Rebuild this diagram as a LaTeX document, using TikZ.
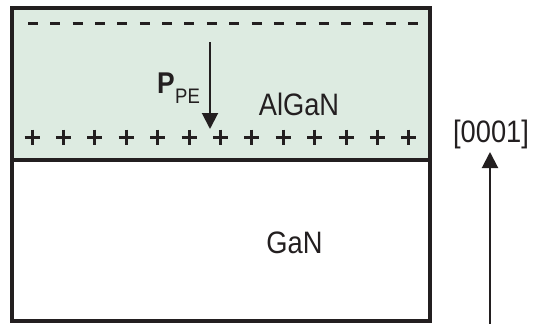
\documentclass[tikz,border=0pt]{standalone}
\usepackage{fontspec}
\setmainfont{Liberation Sans}
\newfontfamily\narrowsans{Liberation Sans}[FakeStretch=0.88]
\usetikzlibrary{arrows.meta}
\definecolor{ink}{RGB}{35,31,32}
\definecolor{algan}{RGB}{221,235,225}
\begin{document}
\begin{tikzpicture}[x=1pt,y=-1pt,
  border/.style={draw=ink,line width=4pt},
  lbl/.style={anchor=base,inner sep=0pt,text=ink,font=\narrowsans\fontsize{31}{34}\selectfont},
  arr/.style={draw=ink,line width=2pt,-{Triangle[length=16pt,width=16pt]}},
  charge/.style={draw=ink,line width=3pt}]
\useasboundingbox (0,0) rectangle (533,324);
\fill[white] (0,0) rectangle (533,324);
% layers
\fill[algan] (12,7.5) rectangle (430,159.5);
\draw[border] (12,7.5) rectangle (430,321);
\draw[border] (12,159.5) -- (430,159.5);
% negative charges
\foreach \i in {0,...,17} {
  \draw[charge] ({28+22.35*\i},23) -- ({38+22.35*\i},23);
}
% positive charges
\foreach \i in {0,...,12} {
  \draw[charge] ({24.5+31.4*\i},137) -- ({39.5+31.4*\i},137);
  \draw[charge] ({32+31.4*\i},129.5) -- ({32+31.4*\i},144.5);
}
% labels
\node[lbl] (algan) at (299,115) {AlGaN};
\node[lbl] (gan) at (294.5,253) {GaN};
\node[lbl] (dir) at (491,142) {[0001]};
\node[anchor=base west,inner sep=0pt,text=ink,font=\narrowsans\fontsize{30}{32}\selectfont\bfseries] (p) at (157,93) {P};
\node[anchor=base west,inner sep=0pt,text=ink,font=\narrowsans\fontsize{21}{23}\selectfont] (pe) at (p.base east) [yshift=-10pt] {PE};
% arrows
\coordinate (ptop) at (210,42);
\coordinate (pbot) at (210,129);
\draw[arr] (ptop) -- (pbot);
\coordinate (cbot) at (490,324);
\coordinate (ctop) at (490,152);
\draw[arr] (cbot) -- (ctop);
\end{tikzpicture}
\end{document}
